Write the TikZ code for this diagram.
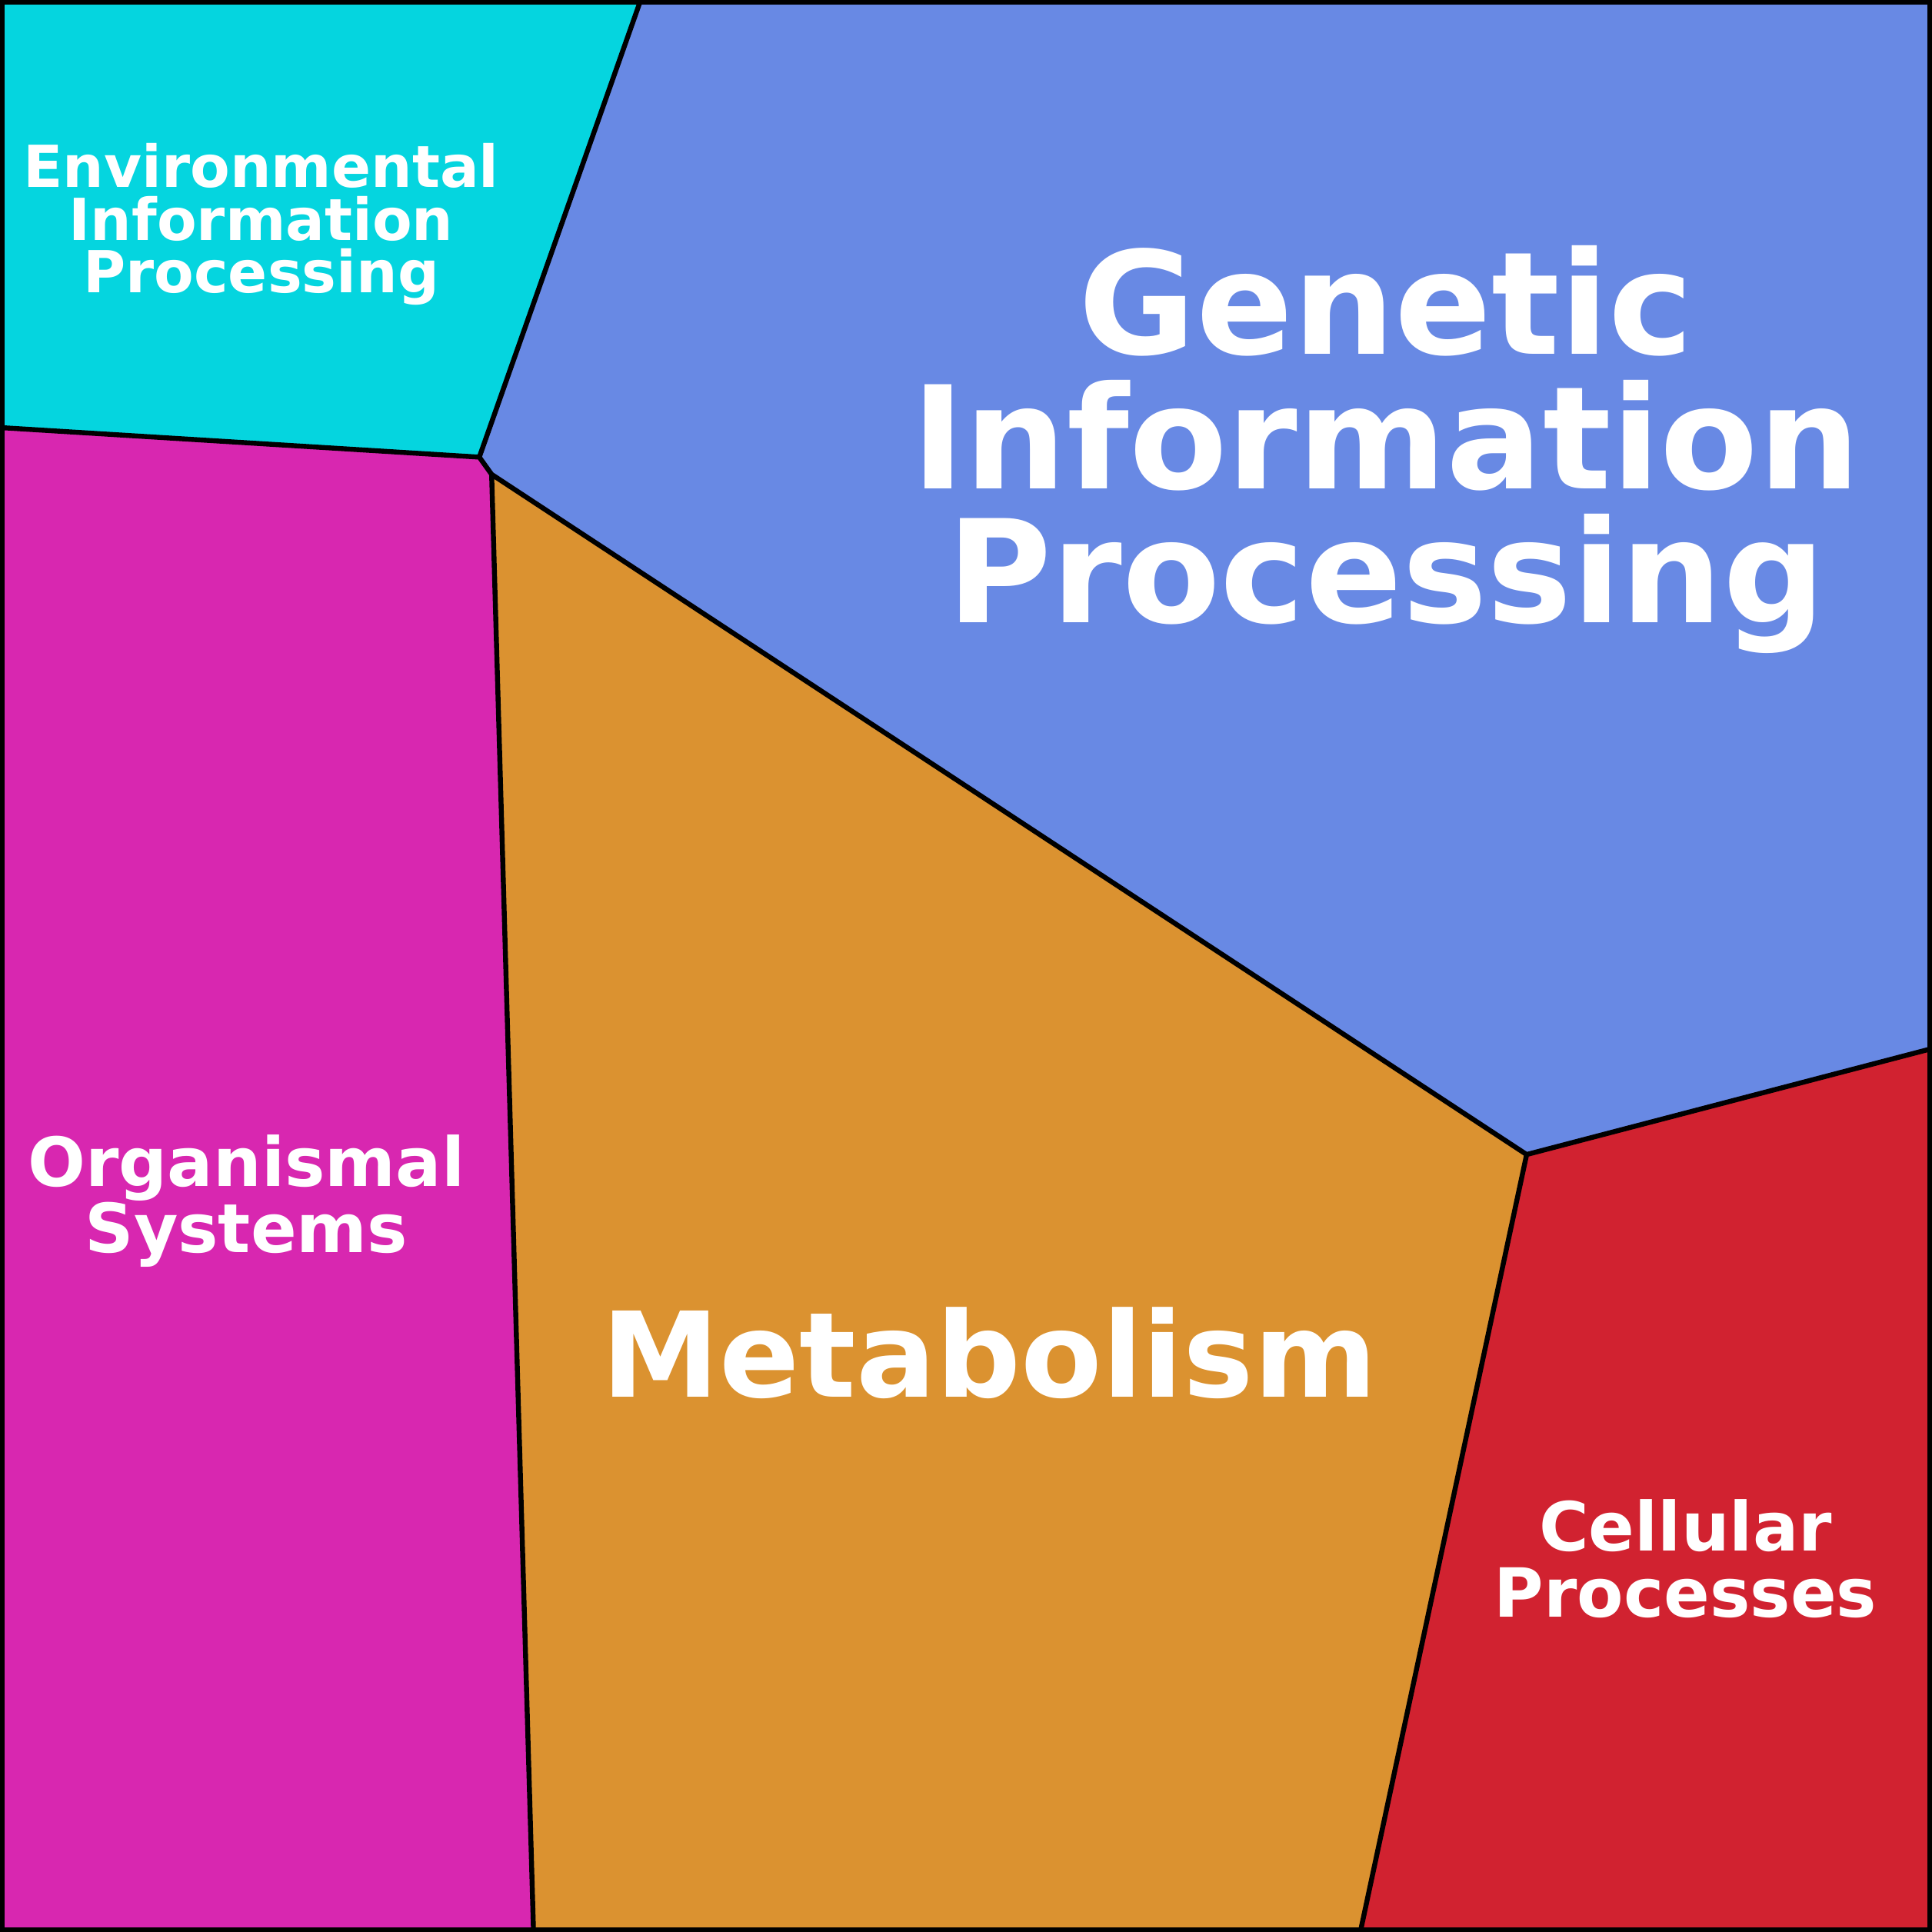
\documentclass[tikz,border=0pt]{standalone}
\usepackage{fontspec}
\setmainfont{DejaVu Sans}
\definecolor{cenv}{HTML}{05D5DF}
\definecolor{cgen}{HTML}{6889E4}
\definecolor{cmet}{HTML}{DB9230}
\definecolor{ccel}{HTML}{D12230}
\definecolor{corg}{HTML}{D827B0}
\begin{document}
\begin{tikzpicture}[x=1pt,y=-1pt,
  reg/.style={draw=black,line width=4pt,line join=round},
  lab/.style={text=white,align=center,font=\bfseries}]
\useasboundingbox (0,0) rectangle (1568,1568);
\coordinate (tl) at (0,0); \coordinate (tr) at (1568,0);
\coordinate (bl) at (0,1568); \coordinate (br) at (1568,1568);
\coordinate (a) at (520,0); \coordinate (b) at (389,371);
\coordinate (c) at (0,347); \coordinate (d) at (399,385);
\coordinate (e) at (1239,937); \coordinate (f) at (1568,851);
\coordinate (g) at (1104,1568); \coordinate (h) at (433,1568);
\fill[cenv] (tl)--(a)--(b)--(c)--cycle;
\fill[cgen] (a)--(tr)--(f)--(e)--(d)--(b)--cycle;
\fill[cmet] (d)--(e)--(g)--(h)--cycle;
\fill[ccel] (e)--(f)--(br)--(g)--cycle;
\fill[corg] (c)--(b)--(d)--(h)--(bl)--cycle;
\draw[reg] (a)--(b)--(c) (b)--(d)--(e)--(f) (d)--(h) (e)--(g);
\draw[line width=8pt] (tl) rectangle (br);
\node[lab,font=\bfseries\fontsize{116}{109}\selectfont] (gen) at (1125,365) {Genetic\\Information\\Processing};
\node[lab,font=\bfseries\fontsize{96}{96}\selectfont] (met) at (803,1098) {Metabolism};
\node[lab,font=\bfseries\fontsize{47}{43}\selectfont] (env) at (212,182) {Environmental\\Information\\Processing};
\node[lab,font=\bfseries\fontsize{55}{52}\selectfont] (org) at (200,975) {Organismal\\Systems};
\node[lab,font=\bfseries\fontsize{55}{54}\selectfont] (cel) at (1368,1265) {Cellular\\Processes};
\end{tikzpicture}
\end{document}
